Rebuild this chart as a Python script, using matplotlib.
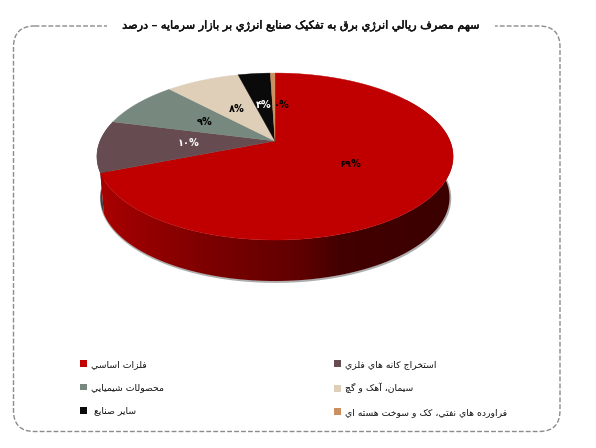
import numpy as np
import matplotlib
matplotlib.use("Agg")
import matplotlib.pyplot as plt
import matplotlib.patheffects as pe
from matplotlib.colors import LinearSegmentedColormap, to_rgb
from matplotlib.patches import FancyBboxPatch, Patch, Polygon

title = "سهم مصرف ريالي انرژي برق به تفکيک صنايع انرژي بر بازار سرمايه – درصد"
categories = [
    "فلزات اساسي",
    "استخراج کانه هاي فلزي",
    "محصولات شيميايي",
    "سيمان، آهک و گچ",
    "ساير صنايع ",
    "فراورده هاي نفتي، کک و سوخت هسته اي",
]
values = [69, 10, 9, 8, 3.5, 0.5]
value_labels = ["۶۹%", "۱۰%", "۹%", "۸%", "۴%", "۰%"]
colors = ["#C00000", "#664C50", "#77897F", "#DFCFB9", "#0A0A0A", "#CC9060"]
label_colors = ["black", "white", "black", "black", "white", "black"]

# isolated, final, initial, medial
FORMS = {
    "ا": (0xFE8D, 0xFE8E), "آ": (0xFE81, 0xFE82), "د": (0xFEA9, 0xFEAA),
    "ر": (0xFEAD, 0xFEAE), "ز": (0xFEAF, 0xFEB0), "ژ": (0xFB8A, 0xFB8B),
    "و": (0xFEED, 0xFEEE),
    "ب": (0xFE8F, 0xFE90, 0xFE91, 0xFE92), "پ": (0xFB56, 0xFB57, 0xFB58, 0xFB59),
    "ت": (0xFE95, 0xFE96, 0xFE97, 0xFE98), "ج": (0xFE9D, 0xFE9E, 0xFE9F, 0xFEA0),
    "چ": (0xFB7A, 0xFB7B, 0xFB7C, 0xFB7D), "ح": (0xFEA1, 0xFEA2, 0xFEA3, 0xFEA4),
    "خ": (0xFEA5, 0xFEA6, 0xFEA7, 0xFEA8), "س": (0xFEB1, 0xFEB2, 0xFEB3, 0xFEB4),
    "ش": (0xFEB5, 0xFEB6, 0xFEB7, 0xFEB8), "ص": (0xFEB9, 0xFEBA, 0xFEBB, 0xFEBC),
    "ع": (0xFEC9, 0xFECA, 0xFECB, 0xFECC), "ف": (0xFED1, 0xFED2, 0xFED3, 0xFED4),
    "ق": (0xFED5, 0xFED6, 0xFED7, 0xFED8), "ک": (0xFB8E, 0xFB8F, 0xFB90, 0xFB91),
    "گ": (0xFB92, 0xFB93, 0xFB94, 0xFB95), "ل": (0xFEDD, 0xFEDE, 0xFEDF, 0xFEE0),
    "م": (0xFEE1, 0xFEE2, 0xFEE3, 0xFEE4), "ن": (0xFEE5, 0xFEE6, 0xFEE7, 0xFEE8),
    "ه": (0xFEE9, 0xFEEA, 0xFEEB, 0xFEEC), "ي": (0xFEF1, 0xFEF2, 0xFEF3, 0xFEF4),
}


def shape(text):
    """matplotlib does no Arabic shaping, so pick the joined forms and reverse."""
    out = []
    for i, ch in enumerate(text):
        forms = FORMS.get(ch)
        if forms is None:
            out.append(ch)
            continue
        prev = FORMS.get(text[i - 1]) if i > 0 else None
        nxt = FORMS.get(text[i + 1]) if i + 1 < len(text) else None
        joins_prev = prev is not None and len(prev) == 4
        joins_next = nxt is not None and len(forms) == 4
        if joins_prev and joins_next:
            out.append(chr(forms[3]))
        elif joins_prev:
            out.append(chr(forms[1]))
        elif joins_next:
            out.append(chr(forms[2]))
        else:
            out.append(chr(forms[0]))
    return "".join(reversed(out))


# projected pie, in figure pixels
CX, CY = 275, 141
RX, RY = 175, 80.6
PERSPECTIVE = 0.186
DEPTH = 41
BOTTOM_SCALE = 0.98


def project(theta, r=1.0):
    u, v = r * np.sin(theta), r * np.cos(theta)
    s = 1 + PERSPECTIVE * v
    return CX + RX * u / s, CY - RY * v / s


def project_bottom(theta):
    x, y = project(theta)
    return CX + (x - CX) * BOTTOM_SCALE, y + DEPTH


def wall_outline(a, b):
    th = np.linspace(a, b, 120)
    x, y = project(th)
    xb, yb = project_bottom(th)
    return np.r_[x, xb[::-1]], np.r_[y, yb[::-1]]


fig = plt.figure(figsize=(5.96, 4.48), dpi=100)
ax = fig.add_axes([0, 0, 1, 1])
ax.axis("off")

ax.add_patch(FancyBboxPatch((13.5, 26), 546.5, 405.5, boxstyle="round,pad=0,rounding_size=21",
                            fill=False, edgecolor="#8c8c8c", linewidth=1, linestyle=(0, (3.5, 1.5))))
ax.text(301, 26, shape(title), ha="center", va="center", fontsize=8.1, color="#111111",
        path_effects=[pe.withStroke(linewidth=0.35, foreground="#111111")],
        bbox=dict(facecolor="white", edgecolor="none", pad=11))

edges = np.cumsum([0] + values) / sum(values) * 2 * np.pi

# soft shadow below the wall
fx, fy = project_bottom(np.linspace(np.pi * 0.32, np.pi * 1.5, 200))
ax.plot(fx + 0.6, fy + 0.8, color="#777777", linewidth=1.6, alpha=0.6, zorder=1)

# the slice next to the big one shows a little wall on the far left
wx, wy = wall_outline(edges[1], edges[2])
ax.fill(wx, wy, color="#3c3c42", linewidth=0, zorder=2)

# big slice wall, dark towards the right
stops = [100, 200, 300, 340, 440]
shades = [0.875, 0.66, 0.5, 0.35, 0.31]
base = np.array(to_rgb(colors[0]))
grad_x = np.linspace(90, 460, 371)
cmap = LinearSegmentedColormap.from_list(
    "wall", [tuple(base * s) for s in np.interp(np.linspace(90, 460, 64), stops, shades)])
wall = ax.imshow(grad_x[None, :], extent=(90, 460, 300, 100), cmap=cmap, aspect="auto", zorder=2.5)
wx, wy = wall_outline(np.pi * 0.3, edges[1])
clip = Polygon(np.c_[wx, wy], closed=True, transform=ax.transData, facecolor="none", edgecolor="none")
ax.add_patch(clip)
wall.set_clip_path(clip)

# top face
for color, a, b in zip(colors, edges[:-1], edges[1:]):
    th = np.linspace(a, b, max(3, int(np.degrees(b - a)) + 2))
    x, y = project(th)
    ax.fill(np.r_[CX, x], np.r_[CY, y], color=color, linewidth=0.3, zorder=3)

# value labels sit at half radius, the smallest was pulled right in the original
mids = (edges[:-1] + edges[1:]) / 2
for i, (mid, lab, col) in enumerate(zip(mids, value_labels, label_colors)):
    x, y = project(mid, 0.49)
    if i == len(values) - 1:
        x += 8
    ax.text(x, y, lab, ha="center", va="center", fontsize=7, color=col, fontweight="bold", zorder=4)

ax.set_xlim(0, 596)
ax.set_ylim(448, 0)

# legend fills by column, so take the two columns apart
handles = [Patch(facecolor=c, edgecolor="none", label=shape(n)) for c, n in zip(colors, categories)]
order = [0, 2, 4, 1, 3, 5]
ax.legend([handles[i] for i in order], [handles[i].get_label() for i in order], ncol=2,
          loc="upper left", bbox_to_anchor=(71.7 / 596, 1 - 351.5 / 448), frameon=False, fontsize=6.65,
          handlelength=0.75, handleheight=0.75, handletextpad=0.45, columnspacing=18.4, labelspacing=1.55,
          labelcolor="#111111")

fig.savefig("out.png", dpi=100)
plt.close(fig)
